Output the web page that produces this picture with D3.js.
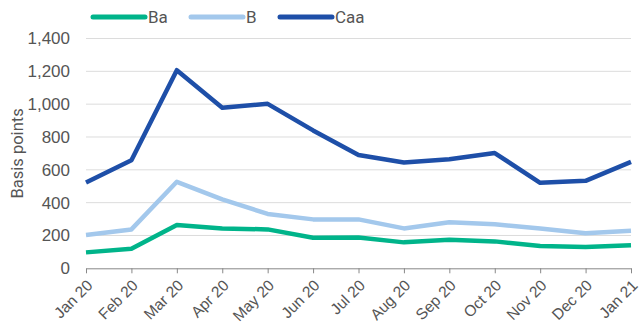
<!DOCTYPE html>
<html lang="en">
  <head>
    <meta charset="UTF-8" />
    <title>Spreads by rating</title>
    <script src="https://cdn.jsdelivr.net/npm/d3@7"></script>
    <style>
      body { margin: 0; background: #fff; }
      svg { display: block; font-family: "Liberation Sans Narrow", "Roboto", sans-serif; }
    </style>
  </head>
  <body>
    <svg width="643" height="327"></svg>
    <script>
      // months on the x axis
      const months = ["Jan 20", "Feb 20", "Mar 20", "Apr 20", "May 20", "Jun 20", "Jul 20",
                      "Aug 20", "Sep 20", "Oct 20", "Nov 20", "Dec 20", "Jan 21"];
      // spreads in basis points
      const ba  = [97, 119, 264, 243, 237, 186, 187, 158, 174, 164, 136, 130, 140];
      const b   = [203, 237, 527, 420, 331, 298, 298, 243, 280, 268, 243, 213, 229];
      const caa = [523, 658, 1207, 978, 1002, 840, 690, 645, 665, 702, 521, 533, 648];
      const yTicks = [0, 200, 400, 600, 800, 1000, 1200, 1400];

      const series = [
        { name: "Ba", values: ba, color: "#00b48a" },
        { name: "B", values: b, color: "#a3c8ec" },
        { name: "Caa", values: caa, color: "#1e4fa8" }
      ];

      const svg = d3.select("svg");
      const plotL = 86, plotR = 631, plotT = 38.5, plotB = 268.3;
      const textColor = "#555";

      const x = d3.scalePoint().domain(months).range([plotL, plotR]);
      const y = d3.scaleLinear().domain([0, 1400]).range([plotB, plotT]);

      // gridlines
      svg.append("g")
        .selectAll("line")
        .data(yTicks.filter(d => d > 0))
        .join("line")
        .attr("x1", plotL).attr("x2", plotR)
        .attr("y1", d => y(d)).attr("y2", d => y(d))
        .attr("stroke", "#dcdcdc").attr("stroke-width", 1);

      // y axis labels
      const yAxis = svg.append("g")
        .attr("transform", `translate(${plotL},0)`)
        .call(d3.axisLeft(y).tickValues(yTicks).tickSize(0).tickPadding(16).tickFormat(d3.format(",")));
      yAxis.select(".domain").remove();
      yAxis.selectAll("text").attr("font-size", 17).attr("fill", textColor).attr("font-family", null);

      // x axis
      const xAxis = svg.append("g")
        .attr("transform", `translate(0,${plotB})`)
        .call(d3.axisBottom(x).tickSize(5).tickSizeOuter(0));
      xAxis.select(".domain").attr("stroke", "#888");
      xAxis.selectAll(".tick line").attr("stroke", "#888");
      xAxis.selectAll("text")
        .attr("font-size", 15.5).attr("fill", textColor).attr("font-family", null)
        .attr("text-anchor", "end")
        .attr("dy", null).attr("y", 0)
        .attr("transform", "translate(7,18) rotate(-45)");

      // y axis title
      svg.append("text")
        .attr("transform", `translate(23,${(plotT + plotB) / 2}) rotate(-90)`)
        .attr("text-anchor", "middle")
        .attr("font-size", 16.5).attr("fill", textColor)
        .text("Basis points");

      // lines
      const line = d3.line().x((d, i) => x(months[i])).y(d => y(d));
      svg.append("g")
        .selectAll("path")
        .data(series)
        .join("path")
        .attr("d", d => line(d.values))
        .attr("fill", "none")
        .attr("stroke", d => d.color)
        .attr("stroke-width", 4.5)
        .attr("stroke-linejoin", "round");

      // legend
      const legendX = [93, 191, 280];
      const lg = svg.append("g").selectAll("g")
        .data(series)
        .join("g")
        .attr("transform", (d, i) => `translate(${legendX[i]},17)`);
      lg.append("line")
        .attr("x1", 0).attr("x2", 52)
        .attr("stroke", d => d.color).attr("stroke-width", 5).attr("stroke-linecap", "round");
      lg.append("text")
        .attr("x", 55).attr("dy", "0.35em")
        .attr("font-size", 17).attr("fill", textColor)
        .text(d => d.name);
    </script>
  </body>
</html>
